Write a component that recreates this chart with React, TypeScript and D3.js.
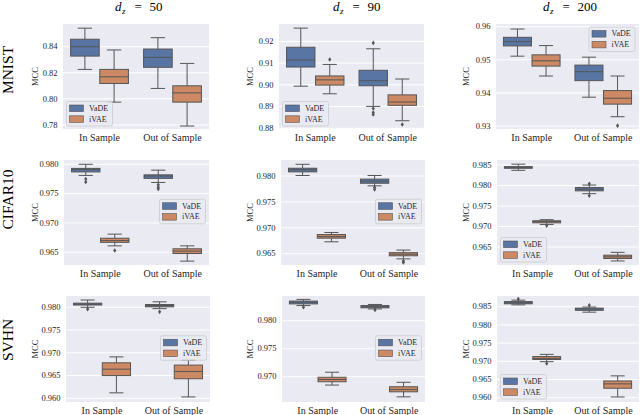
import React from "react";
import * as d3 from "d3";

// ---------- data ----------
const categories = ["In Sample", "Out of Sample"];
const hues = ["VaDE", "iVAE"];
const datasets = ["MNIST", "CIFAR10", "SVHN"];
const dims = ["50", "90", "200"];

// box stats: [whiskerLow, q1, median, q3, whiskerHigh] for [In Sample, Out of Sample]
const mnist50VaDE = [[0.8226, 0.8328, 0.840, 0.8457, 0.8542], [0.808, 0.8242, 0.8318, 0.8382, 0.8469]];
const mnist50iVAE = [[0.7975, 0.8118, 0.8169, 0.8226, 0.8375], [0.7792, 0.7975, 0.8046, 0.810, 0.8272]];
const mnist50VaDEFliers = [[], []];
const mnist50iVAEFliers = [[], []];

const mnist90VaDE = [[0.8994, 0.9082, 0.9114, 0.9173, 0.9261], [0.8901, 0.8996, 0.9019, 0.9067, 0.9166]];
const mnist90iVAE = [[0.8959, 0.8999, 0.9023, 0.9041, 0.9094], [0.8835, 0.8906, 0.8921, 0.8954, 0.9027]];
const mnist90VaDEFliers = [[], [0.9193, 0.8891, 0.8873, 0.8864]];
const mnist90iVAEFliers = [[0.9117], [0.8818]];

const mnist200VaDE = [[0.9511, 0.9542, 0.9555, 0.9568, 0.9593], [0.9387, 0.9437, 0.9464, 0.9484, 0.9508]];
const mnist200iVAE = [[0.9451, 0.9481, 0.9497, 0.9515, 0.9543], [0.9328, 0.9366, 0.9384, 0.9407, 0.9451]];
const mnist200VaDEFliers = [[], []];
const mnist200iVAEFliers = [[], [0.9301]];

const cifar50VaDE = [[0.9781, 0.9787, 0.9791, 0.9793, 0.9800], [0.9769, 0.9776, 0.9780, 0.9782, 0.9790]];
const cifar50iVAE = [[0.9661, 0.9667, 0.9670, 0.9674, 0.9681], [0.9635, 0.9648, 0.9652, 0.9656, 0.9661]];
const cifar50VaDEFliers = [[0.9775, 0.9770], [0.9765, 0.9761, 0.9758]];
const cifar50iVAEFliers = [[0.9653], []];

const cifar90VaDE = [[0.9801, 0.9808, 0.9812, 0.9815, 0.98226], [0.9781, 0.9786, 0.9790, 0.9794, 0.9801]];
const cifar90iVAE = [[0.9673, 0.9680, 0.9683, 0.9687, 0.9691], [0.9640, 0.9646, 0.9649, 0.9652, 0.9657]];
const cifar90VaDEFliers = [[], [0.9778, 0.9774]];
const cifar90iVAEFliers = [[], [0.9636, 0.9633]];

const cifar200VaDE = [[0.9837, 0.9842, 0.9844, 0.9846, 0.9852], [0.9780, 0.9787, 0.9791, 0.9795, 0.9801]];
const cifar200iVAE = [[0.9705, 0.9709, 0.9712, 0.9714, 0.97166], [0.9616, 0.9622, 0.9626, 0.9630, 0.9637]];
const cifar200VaDEFliers = [[], [0.9804, 0.9775]];
const cifar200iVAEFliers = [[0.9702], []];

const svhn50VaDE = [[0.9800, 0.9805, 0.9807, 0.9809, 0.9816], [0.9797, 0.9801, 0.9804, 0.9806, 0.9812]];
const svhn50iVAE = [[0.9612, 0.9650, 0.9664, 0.9678, 0.9691], [0.9603, 0.9643, 0.9659, 0.9673, 0.9684]];
const svhn50VaDEFliers = [[0.9796], [0.9790]];
const svhn50iVAEFliers = [[], []];

const svhn90VaDE = [[0.9827, 0.9830, 0.9833, 0.9835, 0.9838], [0.9821, 0.9823, 0.9825, 0.9827, 0.9829]];
const svhn90iVAE = [[0.9685, 0.9691, 0.9695, 0.9699, 0.9708], [0.9664, 0.9673, 0.9677, 0.9682, 0.9690]];
const svhn90VaDEFliers = [[0.9824], [0.9819]];
const svhn90iVAEFliers = [[], []];

const svhn200VaDE = [[0.9855, 0.9858, 0.9861, 0.9864, 0.9868], [0.9835, 0.9840, 0.9844, 0.9846, 0.9849]];
const svhn200iVAE = [[0.9699, 0.9705, 0.9708, 0.9713, 0.9719], [0.9602, 0.9626, 0.9638, 0.9646, 0.9660]];
const svhn200VaDEFliers = [[0.9871], [0.9854]];
const svhn200iVAEFliers = [[0.9694], []];

// y tick values per panel
const ticks1 = [0.78, 0.80, 0.82, 0.84];
const ticks2 = [0.88, 0.89, 0.90, 0.91, 0.92];
const ticks3 = [0.93, 0.94, 0.95, 0.96];
const ticks4 = [0.965, 0.970, 0.975, 0.980];
const ticks5 = [0.965, 0.970, 0.975, 0.980];
const ticks6 = [0.965, 0.970, 0.975, 0.980, 0.985];
const ticks7 = [0.960, 0.965, 0.970, 0.975, 0.980];
const ticks8 = [0.970, 0.975, 0.980];
const ticks9 = [0.960, 0.965, 0.970, 0.975, 0.980, 0.985];

// y domains per panel
const domains = [
  [0.7769, 0.8574], [0.8797, 0.9280], [0.92909, 0.96082],
  [0.96284, 0.98073], [0.96282, 0.98309], [0.96061, 0.98622],
  [0.95919, 0.98248], [0.96548, 0.98441], [0.95882, 0.98794],
];

// ---------- layout ----------
const COLORS = ["#5875a4", "#cc8963"];
const LINE = "#555555";
const FONT = "Liberation Serif, DejaVu Serif, serif";

const rowTB = [[24, 129], [160, 265], [296, 402]];
const colLR = [
  [[63, 209], [279, 424], [496, 639]],
  [[64, 209], [281, 425], [497, 639]],
  [[66, 210], [282, 425], [497, 639]],
];
const mccX = [35, 250, 466];
const rowLabelY = [70, 199.5, 340];
const titleX = [115, 333, 543];
const legendLoc = ["ll", "ll", "ur", "cr", "cr", "ll", "cr", "cr", "ll"];

const panelData = [
  [mnist50VaDE, mnist50iVAE, mnist50VaDEFliers, mnist50iVAEFliers, ticks1, 2],
  [mnist90VaDE, mnist90iVAE, mnist90VaDEFliers, mnist90iVAEFliers, ticks2, 2],
  [mnist200VaDE, mnist200iVAE, mnist200VaDEFliers, mnist200iVAEFliers, ticks3, 2],
  [cifar50VaDE, cifar50iVAE, cifar50VaDEFliers, cifar50iVAEFliers, ticks4, 3],
  [cifar90VaDE, cifar90iVAE, cifar90VaDEFliers, cifar90iVAEFliers, ticks5, 3],
  [cifar200VaDE, cifar200iVAE, cifar200VaDEFliers, cifar200iVAEFliers, ticks6, 3],
  [svhn50VaDE, svhn50iVAE, svhn50VaDEFliers, svhn50iVAEFliers, ticks7, 3],
  [svhn90VaDE, svhn90iVAE, svhn90VaDEFliers, svhn90iVAEFliers, ticks8, 3],
  [svhn200VaDE, svhn200iVAE, svhn200VaDEFliers, svhn200iVAEFliers, ticks9, 3],
] as any[];

function Panel({ idx }: { idx: number }) {
  const r = Math.floor(idx / 3);
  const c = idx % 3;
  const [top, bottom] = rowTB[r];
  const [left, right] = colLR[r][c];
  const [vade, ivae, vadeF, ivaeF, ticks, dec] = panelData[idx];
  const y = d3.scaleLinear().domain(domains[idx]).range([bottom, top]);
  const x = d3.scaleLinear().domain([-0.5, 1.5]).range([left, right]);
  const unit = x(1) - x(0);
  const bw = unit * 0.4 * 0.98;
  const fmt = d3.format(`.${dec}f`);
  const series = [vade, ivae];
  const fliers = [vadeF, ivaeF];

  const lw = 46, lh = 24.5;
  const loc = legendLoc[idx];
  let lx = left + 3.5, ly = bottom - 3 - lh;
  if (loc === "ur") { lx = right - 4 - lw; ly = top + 3; }
  if (loc === "cr") { lx = right - 3.5 - lw; ly = (top + bottom) / 2 - lh / 2 - 1; }

  return (
    <g>
      <rect x={left} y={top} width={right - left} height={bottom - top} fill="#eaeaf2" />
      {ticks.map((t: number) => (
        <g key={t}>
          <line x1={left} x2={right} y1={y(t)} y2={y(t)} stroke="#ffffff" strokeWidth={1} />
          <text x={left - 5.5} y={y(t)} dy="0.32em" textAnchor="end" fontSize={8.5} fill="#262626">
            {fmt(t)}
          </text>
        </g>
      ))}
      <text transform={`translate(${mccX[c]},${(top + bottom) / 2}) rotate(-90)`} textAnchor="middle" dy="0.35em"
        fontSize={8.5} fill="#262626">MCC</text>
      {categories.map((cat, ci) => (
        <text key={cat} x={x(ci)} y={bottom + 11.5} textAnchor="middle" fontSize={10} fill="#262626">{cat}</text>
      ))}
      {series.map((s: number[][], hi: number) =>
        s.map((st: number[], ci: number) => {
          const cx = x(ci) + (hi === 0 ? -0.2 : 0.2) * unit;
          const [wl, q1, med, q3, wh] = st;
          return (
            <g key={`${hi}-${ci}`}>
              <line x1={cx} x2={cx} y1={y(q3)} y2={y(wh)} stroke={LINE} strokeWidth={1} />
              <line x1={cx} x2={cx} y1={y(q1)} y2={y(wl)} stroke={LINE} strokeWidth={1} />
              <line x1={cx - bw / 4} x2={cx + bw / 4} y1={y(wh)} y2={y(wh)} stroke={LINE} strokeWidth={1} />
              <line x1={cx - bw / 4} x2={cx + bw / 4} y1={y(wl)} y2={y(wl)} stroke={LINE} strokeWidth={1} />
              <rect x={cx - bw / 2} y={y(q3)} width={bw} height={Math.max(0.5, y(q1) - y(q3))}
                fill={COLORS[hi]} stroke={LINE} strokeWidth={1} />
              <line x1={cx - bw / 2} x2={cx + bw / 2} y1={y(med)} y2={y(med)} stroke={LINE} strokeWidth={1} />
              {fliers[hi][ci].map((f: number, fi: number) => {
                const fy = y(f);
                return (
                  <path key={fi} d={`M${cx},${fy - 2.3}L${cx + 1.6},${fy}L${cx},${fy + 2.3}L${cx - 1.6},${fy}Z`} fill={LINE} />
                );
              })}
            </g>
          );
        })
      )}
      <g>
        <rect x={lx} y={ly} width={lw} height={lh} rx={2} fill="#eaeaf2" fillOpacity={0.8} stroke="#cccccc" strokeWidth={0.8} />
        {hues.map((h, hi) => {
          const cy = ly + 6.8 + hi * 10.8;
          return (
            <g key={h}>
              <rect x={lx + 3} y={cy - 3.3} width={14} height={6.6} fill={COLORS[hi]} stroke={LINE} strokeWidth={0.6} />
              <text x={lx + 22.5} y={cy} dy="0.33em" fontSize={8} fill="#262626">{h}</text>
            </g>
          );
        })}
      </g>
    </g>
  );
}

export default function App() {
  return (
    <div style={{ position: "absolute", left: 0, top: 0, background: "#fff" }}>
      <svg width={640} height={415} viewBox="0 0 640 415" style={{ display: "block", fontFamily: FONT }}>
        <rect x={0} y={0} width={640} height={415} fill="#ffffff" />
        {dims.map((dz, i) => (
          <text key={dz} x={titleX[i]} y={11} fontSize={13} fill="#000">
            <tspan fontStyle="italic">d</tspan>
            <tspan fontStyle="italic" fontSize={9} dy={2.5} dx={0.5}>z</tspan>
            <tspan x={titleX[i] + 19.5} dy={-2.5}>=</tspan>
            <tspan x={titleX[i] + 34.5}>{dz}</tspan>
          </text>
        ))}
        {datasets.map((ds, i) => (
          <text key={ds} transform={`translate(${7.5},${rowLabelY[i]}) rotate(-90)`} textAnchor="middle" dy="0.35em"
            fontSize={15.5} fill="#000">{ds}</text>
        ))}
        {d3.range(9).map((i) => <Panel key={i} idx={i} />)}
      </svg>
    </div>
  );
}
